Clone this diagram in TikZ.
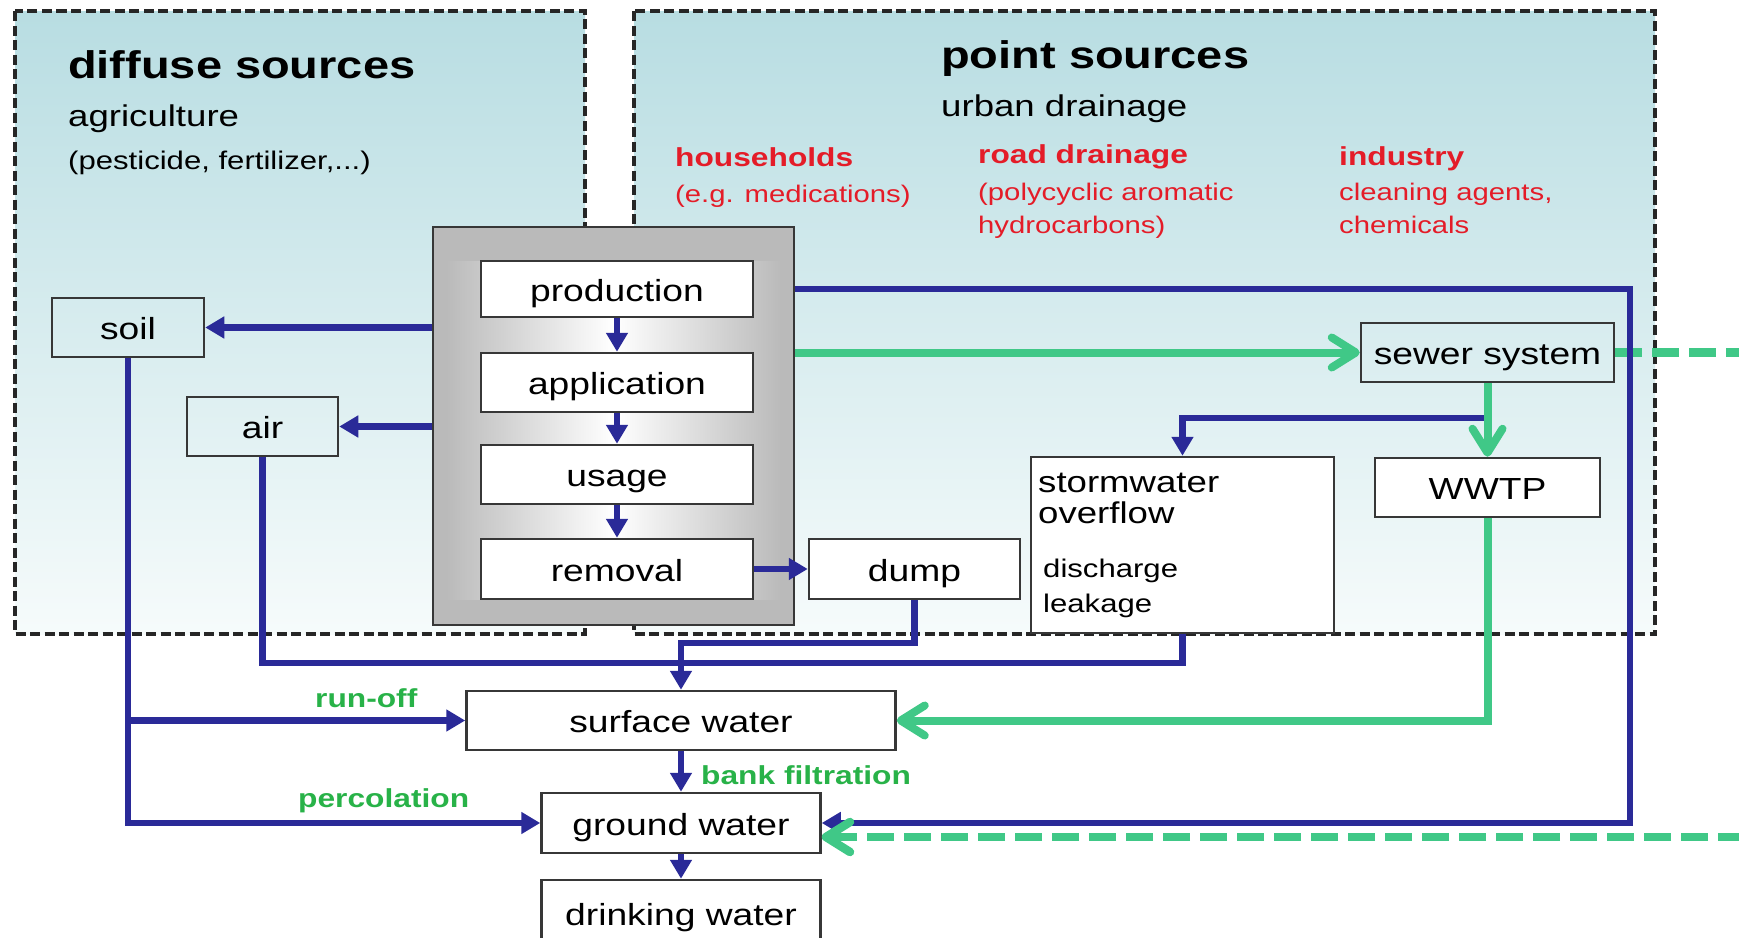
\documentclass[tikz,border=0pt]{standalone}
\usepackage{fontspec}
\setmainfont{Liberation Sans}[FakeStretch=1.22]
\usetikzlibrary{arrows.meta}
\definecolor{dblue}{RGB}{42,42,152}
\definecolor{mgreen}{RGB}{64,200,135}
\definecolor{lgreen}{RGB}{40,178,72}
\definecolor{dred}{RGB}{228,28,40}
\definecolor{bgtop}{RGB}{184,221,226}
\definecolor{bgbot}{RGB}{246,251,251}
\definecolor{grayband}{RGB}{186,186,186}
\definecolor{edge}{RGB}{55,55,55}
\newcommand{\myfs}[1]{\fontsize{#1}{#1}\selectfont}
\begin{document}
\begin{tikzpicture}[x=1pt,y=-1pt,
  box/.style={draw=edge, line width=2.5pt, inner sep=0pt, text height=24pt, text depth=0pt, font=\myfs{30.5}},
  wbox/.style={box, fill=white},
  txt/.style={anchor=base west, inner sep=0pt},
  bline/.style={draw=dblue, line width=6.5pt},
  barrow/.style={bline, -{Triangle[length=19pt,width=21pt]}},
  gline/.style={draw=mgreen, line width=8pt, -{Straight Barb[length=24pt,width=30pt,round]}},
  gdash/.style={gline, dash pattern=on 27pt off 10pt},
  srcbox/.style={draw=black!85, line width=4pt, dash pattern=on 10pt off 4.5pt},
  redb/.style={txt, text=dred, font=\bfseries\myfs{26}},
  redr/.style={txt, text=dred, font=\myfs{24}},
  grl/.style={txt, text=lgreen, font=\bfseries\myfs{26}}
]
\useasboundingbox (0,0) rectangle (1739,937);
\clip (0,0) rectangle (1739,937);
\fill[white] (0,0) rectangle (1739,937);

% source areas
\shade[top color=bgtop, bottom color=bgbot] (15,11) rectangle (585,634);
\shade[top color=bgtop, bottom color=bgbot] (634,11) rectangle (1655,634);
\draw[srcbox] (15,11) rectangle (585,634);
\draw[srcbox] (634,11) rectangle (1655,634);

% titles
\node[txt, font=\bfseries\myfs{38.5}] (dsrc) at (68,78) {diffuse sources};
\node[txt, font=\myfs{30}] (agri) at (68,126) {agriculture};
\node[txt, font=\myfs{25.5}] (pest) at (68,169) {(pesticide, fertilizer,...)};
\node[txt, font=\bfseries\myfs{38.5}] (psrc) at (941,68) {point sources};
\node[txt, font=\myfs{30}] (urb) at (941,116.5) {urban drainage};
\node[redb] (hh1) at (675,166) {households};
\node[redr] (hh2) at (675,202) {(e.g. medications)};
\node[redb] (rd1) at (978,163) {road drainage};
\node[redr] (rd2) at (978,200) {(polycyclic aromatic};
\node[redr] (rd3) at (978,233) {hydrocarbons)};
\node[redb] (in1) at (1339,165) {industry};
\node[redr] (in2) at (1339,200) {cleaning agents,};
\node[redr] (in3) at (1339,233) {chemicals};

% central grey block
\node[draw=edge, line width=2.5pt, fill=grayband, minimum width=361, minimum height=398, inner sep=0pt] (gray) at (613.5,426) {};
\shade[left color=grayband, right color=grayband, middle color=white] (446,261) rectangle (781,599);
\node[wbox, minimum width=272, minimum height=56] (prod) at (617,289) {production};
\node[wbox, minimum width=272, minimum height=59] (appl) at (617,382.5) {application};
\node[wbox, minimum width=272, minimum height=59] (usage) at (617,474.5) {usage};
\node[wbox, minimum width=272, minimum height=60] (remo) at (617,569) {removal};

% other boxes
\node[box, minimum width=152, minimum height=59] (soil) at (128,327.5) {soil};
\node[box, minimum width=151, minimum height=59] (air) at (262.5,426.5) {air};
\node[wbox, minimum width=211, minimum height=60] (dump) at (914.5,569) {dump};
\node[wbox, minimum width=303, minimum height=176] (storm) at (1182.5,545) {};
\node[txt, font=\myfs{30}] (st1) at (1038,492) {stormwater};
\node[txt, font=\myfs{30}] (st2) at (1038,523) {overflow};
\node[txt, font=\myfs{25.5}] (st3) at (1043,577) {discharge};
\node[txt, font=\myfs{25.5}] (st4) at (1043,612) {leakage};
\node[wbox, minimum width=225, minimum height=59] (wwtp) at (1487.5,487.5) {WWTP};
\node[box, minimum width=253, minimum height=59] (sewer) at (1487.5,352.5) {sewer system};
\node[wbox, minimum width=429, minimum height=59] (sw) at (681,720.5) {surface water};
\node[wbox, minimum width=279, minimum height=60] (gw) at (681,823) {ground water};
\node[wbox, minimum width=279, minimum height=66] (dw) at (681,913) {drinking water};

% labels
\node[grl] (runoff) at (315,707) {run-off};
\node[grl] (perc) at (298,807) {percolation};
\node[grl] (bank) at (701,784) {bank filtration};

% coordinates
\coordinate (rc) at (1630,289);
\coordinate (sj) at (1487.5,418);
\coordinate (jd) at (681,643);
\coordinate (jl) at (681,663);
\coordinate (edgeA) at (1745,352.5);
\coordinate (edgeB) at (1745,837);

% connectors
\draw[barrow] (soil.east -| gray.west) -- (soil.east);
\draw[barrow] (air.east -| gray.west) -- (air.east);
\draw[barrow] (prod.south) -- (appl.north);
\draw[barrow] (appl.south) -- (usage.north);
\draw[barrow] (usage.south) -- (remo.north);
\draw[barrow] (remo.east) -- (dump.west);

\draw[draw=mgreen, line width=8.5pt, dash pattern=on 27pt off 10pt] (sewer.east) -- (edgeA);
\draw[barrow] (prod.east -| gray.east) -- (rc) |- (gw.east);
\draw[gline] (sewer.west -| gray.east) -- (sewer.west);
\draw[barrow] (sj) -| (storm.north);
\draw[gline] (sewer.south) -- (wwtp.north);
\draw[gline] (wwtp.south) |- (sw.east);
\draw[gdash, line width=8.5pt] (edgeB) -- (edgeB -| gw.east);

\draw[bline] (air.south) |- (jl) -| (storm.south);
\draw[barrow] (dump.south) |- (jd) -- (sw.north);
\draw[barrow] (soil.south) |- (gw.west);
\draw[barrow] (soil.south |- sw.west) -- (sw.west);
\draw[barrow] (sw.south) -- (gw.north);
\draw[barrow] (gw.south) -- (dw.north);
\end{tikzpicture}
\end{document}
